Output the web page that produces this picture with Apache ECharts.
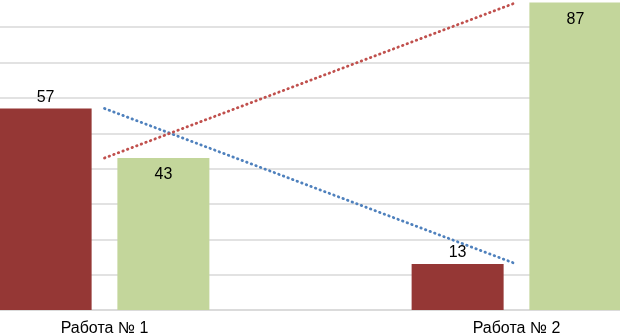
<!DOCTYPE html>
<html>
<head>
<meta charset="utf-8">
<script src="https://cdn.jsdelivr.net/npm/echarts@6/dist/echarts.min.js"></script>
<style>
html,body{margin:0;padding:0;background:#fff;}
#c{width:620px;height:336px;}
</style>
</head>
<body>
<div id="c"></div>
<script>
const categories = ['Работа № 1', 'Работа № 2'];
const seriesRed = [57, 13];
const seriesGreen = [43, 87];
const yMin = 0, yMax = 100, yInterval = 10;

const chart = echarts.init(document.getElementById('c'), null, {renderer: 'canvas'});
const font = 'Liberation Sans, Arial, sans-serif';
chart.setOption({
  backgroundColor: '#ffffff',
  animation: false,
  grid: {left: -101.5, right: -102.5, top: -43.5, bottom: 26, outerBoundsMode: 'none', containLabel: false},
  xAxis: {
    type: 'category',
    data: categories,
    axisLine: {show: true, lineStyle: {color: '#d9d9d9', width: 1.5}},
    axisTick: {show: false},
    axisLabel: {color: '#000', fontFamily: font, fontSize: 16, margin: 11}
  },
  yAxis: {
    type: 'value', min: yMin, max: yMax, interval: yInterval,
    axisLabel: {show: false},
    axisLine: {show: false},
    axisTick: {show: false},
    splitLine: {lineStyle: {color: '#d9d9d9', width: 1.5}}
  },
  series: [
    {
      type: 'bar', data: seriesRed, barWidth: 92, barGap: '28%',
      itemStyle: {color: '#953735'},
      label: {show: true, position: 'top', distance: 3, color: '#000', fontFamily: font, fontSize: 16}
    },
    {
      type: 'bar', data: seriesGreen, barWidth: 92,
      itemStyle: {color: '#c3d69b'},
      label: {show: true, position: 'insideTop', distance: 9, color: '#000', fontFamily: font, fontSize: 16}
    },
    {
      type: 'line', data: seriesRed, showSymbol: false, z: 5,
      lineStyle: {color: '#4f81bd', width: 2.8, type: [0.5, 4.4], cap: 'round'}
    },
    {
      type: 'line', data: seriesGreen, showSymbol: false, z: 5,
      lineStyle: {color: '#c0504d', width: 2.8, type: [0.5, 4.4], cap: 'round'}
    }
  ]
});
</script>
</body>
</html>
